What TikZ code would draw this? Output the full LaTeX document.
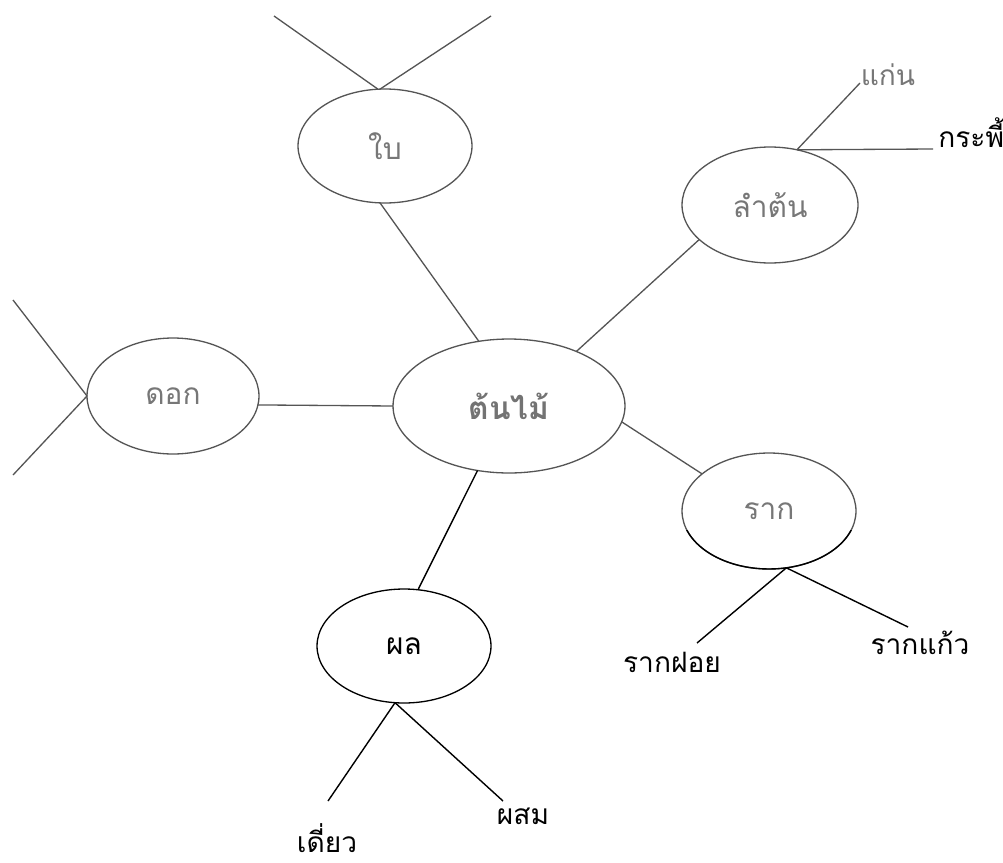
\documentclass[tikz,border=0pt]{standalone}
\usepackage{fontspec}
\newfontfamily\thaifont[Script=Thai]{Loma}
\usetikzlibrary{shapes.geometric}
\definecolor{lgray}{HTML}{555555}
\definecolor{tgray}{HTML}{777777}
\tikzset{
  bubble/.style={ellipse, draw=lgray, line width=0.75pt, inner sep=0pt, outer sep=0pt,
    text=tgray, font=\thaifont\fontsize{17}{20}\selectfont},
  darkbubble/.style={bubble, draw=black, text=black},
  gline/.style={draw=lgray, line width=0.75pt},
  bline/.style={draw=black, line width=0.8pt},
  glabel/.style={text=tgray, font=\thaifont\fontsize{16}{19}\selectfont, inner sep=0pt},
  blabel/.style={text=black, font=\thaifont\fontsize{16}{19}\selectfont, inner sep=0pt}
}
\begin{document}
\begin{tikzpicture}[x=0.02cm, y=-0.02cm]
\useasboundingbox (0,0) rectangle (1003,862);
% ellipses
\node[bubble, minimum width=3.48cm, minimum height=2.28cm] (bai) at (385,146) {ใบ};
\node[bubble, minimum width=4.64cm, minimum height=2.68cm, text=gray!90!black,
  font=\thaifont\bfseries\fontsize{18}{21}\selectfont] (tree) at (509,406) {ต้นไม้};
\node[bubble, minimum width=3.52cm, minimum height=2.32cm] (stem) at (770,205) {ลำต้น};
\node[bubble, minimum width=3.48cm, minimum height=2.32cm] (root) at (769,511) {ราก};
\node[darkbubble, minimum width=3.48cm, minimum height=2.28cm] (fruit) at (404,646) {ผล};
\node[bubble, minimum width=3.44cm, minimum height=2.32cm] (flower) at (173,396) {ดอก};
% darker lower part of root ellipse
\begin{scope}
  \clip (660,530) rectangle (880,590);
  \draw[black, line width=0.8pt] (root.center) ellipse [x radius=1.74cm, y radius=1.16cm];
\end{scope}
% labels
\node[glabel] (kaen) at (888,75) {แก่น};
\node[blabel, anchor=west] (krapee) at (938,133) {กระพี้};
\node[blabel] (fhoi) at (672,662) {รากฝอย};
\node[blabel] (kaew) at (920,643) {รากแก้ว};
\node[blabel] (diao) at (327,838) {เดี่ยว};
\node[blabel] (phasom) at (523,816) {ผสม};
% free ends
\coordinate (baiL) at (274,16);
\coordinate (baiR) at (491,16);
\coordinate (kaenE) at (860,83);
\coordinate (krapeeE) at (933,149);
\coordinate (flU) at (13,300);
\coordinate (flD) at (13,475);
\coordinate (fhoiE) at (697,643);
\coordinate (kaewE) at (908,627);
\coordinate (diaoE) at (328,801);
\coordinate (phasomE) at (503,801);
% connectors
\draw[gline] (bai.97) -- (baiL);
\draw[gline] (bai.95) -- (baiR);
\draw[gline] (bai.265) -- (tree.115.5);
\draw[gline] (tree.39.5) -- (stem.206.6);
\draw[gline] (stem.64) -- (kaenE);
\draw[gline] (stem.64) -- (krapeeE);
\draw[gline] (tree.352) -- (root.151.8);
\draw[gline] (tree.180) -- (flower.354);
\draw[gline] (flower.180) -- (flU);
\draw[gline] (flower.180) -- (flD);
\draw[bline] (tree.244) -- (fruit.76);
\draw[bline] (root.287.6) -- (fhoiE);
\draw[bline] (root.287.6) -- (kaewE);
\draw[bline] (fruit.261) -- (diaoE);
\draw[bline] (fruit.261) -- (phasomE);
\end{tikzpicture}
\end{document}
